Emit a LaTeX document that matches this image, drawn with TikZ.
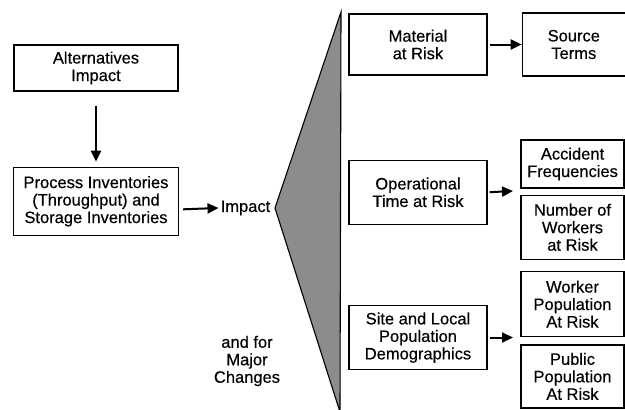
\documentclass[tikz,border=0pt]{standalone}
\usepackage{fontspec}
\setmainfont{Liberation Sans}[FakeBold=0.4]
\usepackage{tikz}
\usetikzlibrary{arrows.meta, positioning, calc}
\tikzstyle{box} = [rectangle, draw=black, line width=1.3pt, text centered, align=center, inner sep=2pt, font=\fontsize{16.5}{17.5}\selectfont]
\tikzstyle{label} = [text centered, align=center, inner sep=2pt, font=\fontsize{16.5}{17.5}\selectfont]
\tikzstyle{arrow} = [line width=2pt, -{Triangle[length=11pt,width=10pt]}]

\begin{document}
\begin{tikzpicture}[x=1pt, y=1pt]
    \useasboundingbox (0,0) rectangle (625,-410);

    % Left column
    \node (alt) [box, minimum width=164pt, minimum height=46pt] at (96,-68) {Alternatives\\Impact};
    \node (proc) [box, minimum width=165pt, minimum height=68pt, below=75pt of alt] {Process Inventories\\(Throughput) and\\Storage Inventories};
    \node (impact) [label] at (245.5,-208) {Impact};
    \node (major) [label] at (247,-361) {and for\\Major\\Changes};

    % Wedge
    \draw [line width=1.1pt, fill=black!45] (275,-208) -- (341,-12) -- (340,-412) -- cycle;

    % Middle column
    \node (mat) [box, minimum width=138pt, minimum height=61pt] at (418,-44.5) {Material\\at Risk};
    \node (oper) [box, minimum width=138pt, minimum height=64pt, below=84pt of mat] {Operational\\Time at Risk};
    \node (site) [box, minimum width=138pt, minimum height=64pt, below=80pt of oper] {Site and Local\\Population\\Demographics};

    % Right column
    \node (src) [box, minimum width=103pt, minimum height=63pt, right=34pt of mat] {Source\\Terms};
    \node (acc) [box, minimum width=103pt, minimum height=48pt] at (572.5,-164) {Accident\\Frequencies};
    \node (num) [box, minimum width=103pt, minimum height=64pt, below=6pt of acc] {Number of\\Workers\\at Risk};
    \node (wrk) [box, minimum width=103pt, minimum height=65pt, below=11pt of num] {Worker\\Population\\At Risk};
    \node (pub) [box, minimum width=103pt, minimum height=63pt, below=7pt of wrk] {Public\\Population\\At Risk};

    \coordinate (opgap) at (513,-191);
    \coordinate (sitegap) at (513,-337.5);

    % Arrows
    \draw [arrow, shorten <=14pt, shorten >=5pt] (alt.south) -- (proc.north);
    \draw [arrow] ([xshift=4pt,yshift=-8pt]proc.east) -- (impact.west);
    \draw [arrow, shorten <=2pt] (mat.east) -- (src.west |- mat.east);
    \draw [arrow, shorten <=2pt] (oper.east) -- (opgap);
    \draw [arrow, shorten <=2pt] (site.east |- sitegap) -- (sitegap);

\end{tikzpicture}
\end{document}
